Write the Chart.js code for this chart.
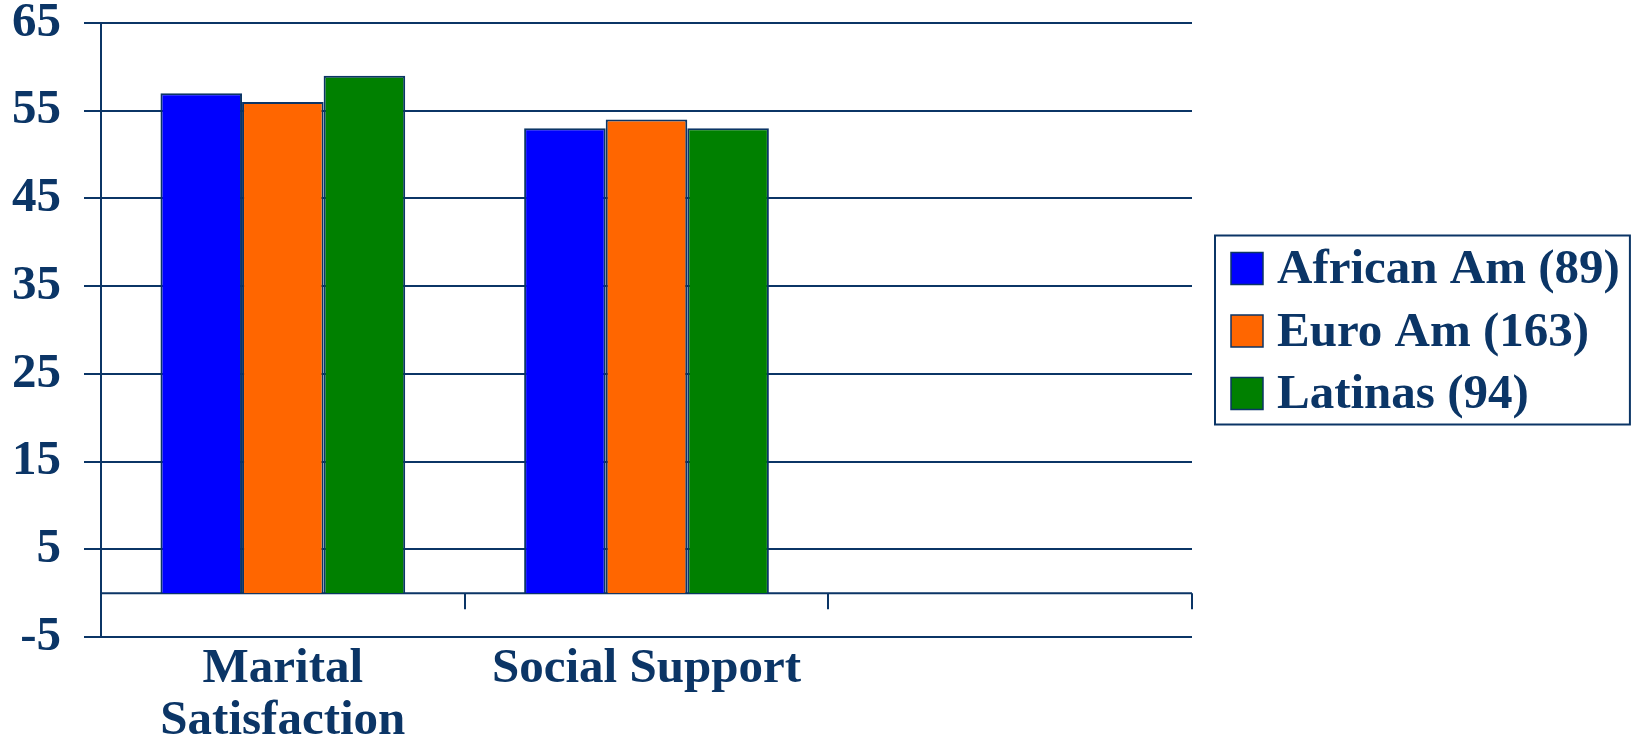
<!DOCTYPE html>
<html>
<head>
<meta charset="utf-8">
<title>Marital Satisfaction and Social Support</title>
<script src="https://cdn.jsdelivr.net/npm/chart.js@4"></script>
<style>
  html, body { margin: 0; padding: 0; background: #ffffff; }
  canvas { display: block; }
</style>
</head>
<body>
<canvas id="myChart" width="1632" height="739"></canvas>
<script>
// categories (third slot is left empty on purpose)
const categories = [["Marital", "Satisfaction"], "Social Support", ""];
const groupNames = ["African Am (89)", "Euro Am (163)", "Latinas (94)"];
const africanAm = [57, 53];
const euroAm = [56, 54];
const latinas = [59, 53];
const groupColors = ["#0000ff", "#ff6600", "#008000"];
const yTicks = [-5, 5, 15, 25, 35, 45, 55, 65];

const navy = "#0b3566";
const fontFamily = "'Liberation Serif', 'Times New Roman', serif";
const fontSize = 49;

// zero line with category ticks hanging below it
const zeroAxis = {
  id: "zeroAxis",
  beforeDatasetsDraw(chart) {
    const { ctx, chartArea, scales } = chart;
    const y0 = scales.y.getPixelForValue(0);
    ctx.save();
    ctx.strokeStyle = navy;
    ctx.lineWidth = 2;
    ctx.beginPath();
    ctx.moveTo(chartArea.left, y0);
    ctx.lineTo(chartArea.right, y0);
    for (let i = 1; i < categories.length + 1; i++) {
      const x = Math.round(scales.x.getPixelForValue(i - 0.5));
      ctx.moveTo(x, y0);
      ctx.lineTo(x, y0 + 16);
    }
    ctx.stroke();
    ctx.restore();
  },
};

// boxed legend to the right of the plot
const boxedLegend = {
  id: "boxedLegend",
  afterDraw(chart) {
    const { ctx, chartArea } = chart;
    const sets = chart.data.datasets;
    const rowGap = 62.5;
    const sw = 32;
    ctx.save();
    ctx.font = "bold " + fontSize + "px " + fontFamily;
    let maxW = 0;
    sets.forEach((ds) => { maxW = Math.max(maxW, ctx.measureText(ds.label).width); });
    const left = chartArea.right + 23;
    const width = 16 + sw + 14 + maxW + 10;
    const height = 189;
    const top = (chartArea.top + chartArea.bottom) / 2 - height / 2;
    ctx.strokeStyle = navy;
    ctx.lineWidth = 2;
    ctx.strokeRect(left, top, width, height);
    sets.forEach((ds, i) => {
      const cy = top + 33 + i * rowGap;
      ctx.fillStyle = ds.backgroundColor;
      ctx.fillRect(left + 16, cy - sw / 2, sw, sw);
      ctx.lineWidth = 1.5;
      ctx.strokeRect(left + 16, cy - sw / 2, sw, sw);
      ctx.fillStyle = navy;
      ctx.textAlign = "left";
      ctx.textBaseline = "middle";
      ctx.fillText(ds.label, left + 16 + sw + 14, cy + 2);
    });
    ctx.restore();
  },
};

const seriesValues = [africanAm, euroAm, latinas];
const datasets = seriesValues.map((values, i) => ({
  label: groupNames[i],
  data: values,
  backgroundColor: groupColors[i],
  borderColor: navy,
  borderWidth: 2,
  categoryPercentage: 0.673,
  barPercentage: 1.0,
}));

const ctx = document.getElementById("myChart").getContext("2d");
new Chart(ctx, {
  type: "bar",
  data: { labels: categories, datasets },
  plugins: [zeroAxis, boxedLegend],
  options: {
    responsive: false,
    animation: false,
    layout: { padding: { top: 0, right: 440, left: 0, bottom: 0 } },
    plugins: { legend: { display: false }, tooltip: { enabled: false } },
    scales: {
      x: {
        grid: { display: false },
        border: { display: false },
        ticks: {
          color: navy,
          padding: -2,
          maxRotation: 0,
          autoSkip: false,
          font: { family: fontFamily, size: fontSize, weight: "bold", lineHeight: 1.06 },
        },
        afterFit(scale) { scale.height = 102; },
      },
      y: {
        min: yTicks[0],
        max: yTicks[yTicks.length - 1],
        afterBuildTicks(scale) { scale.ticks = yTicks.map((v) => ({ value: v })); },
        grid: { color: navy, lineWidth: 2, tickLength: 17, drawTicks: true },
        border: { display: true, color: navy, width: 2 },
        ticks: {
          color: navy,
          padding: 23,
          font: { family: fontFamily, size: fontSize, weight: "bold", lineHeight: 1 },
        },
        afterFit(scale) {
          scale.width = 101;
          scale.paddingTop = 23;
          scale.paddingBottom = 0;
        },
      },
    },
  },
});
</script>
</body>
</html>
